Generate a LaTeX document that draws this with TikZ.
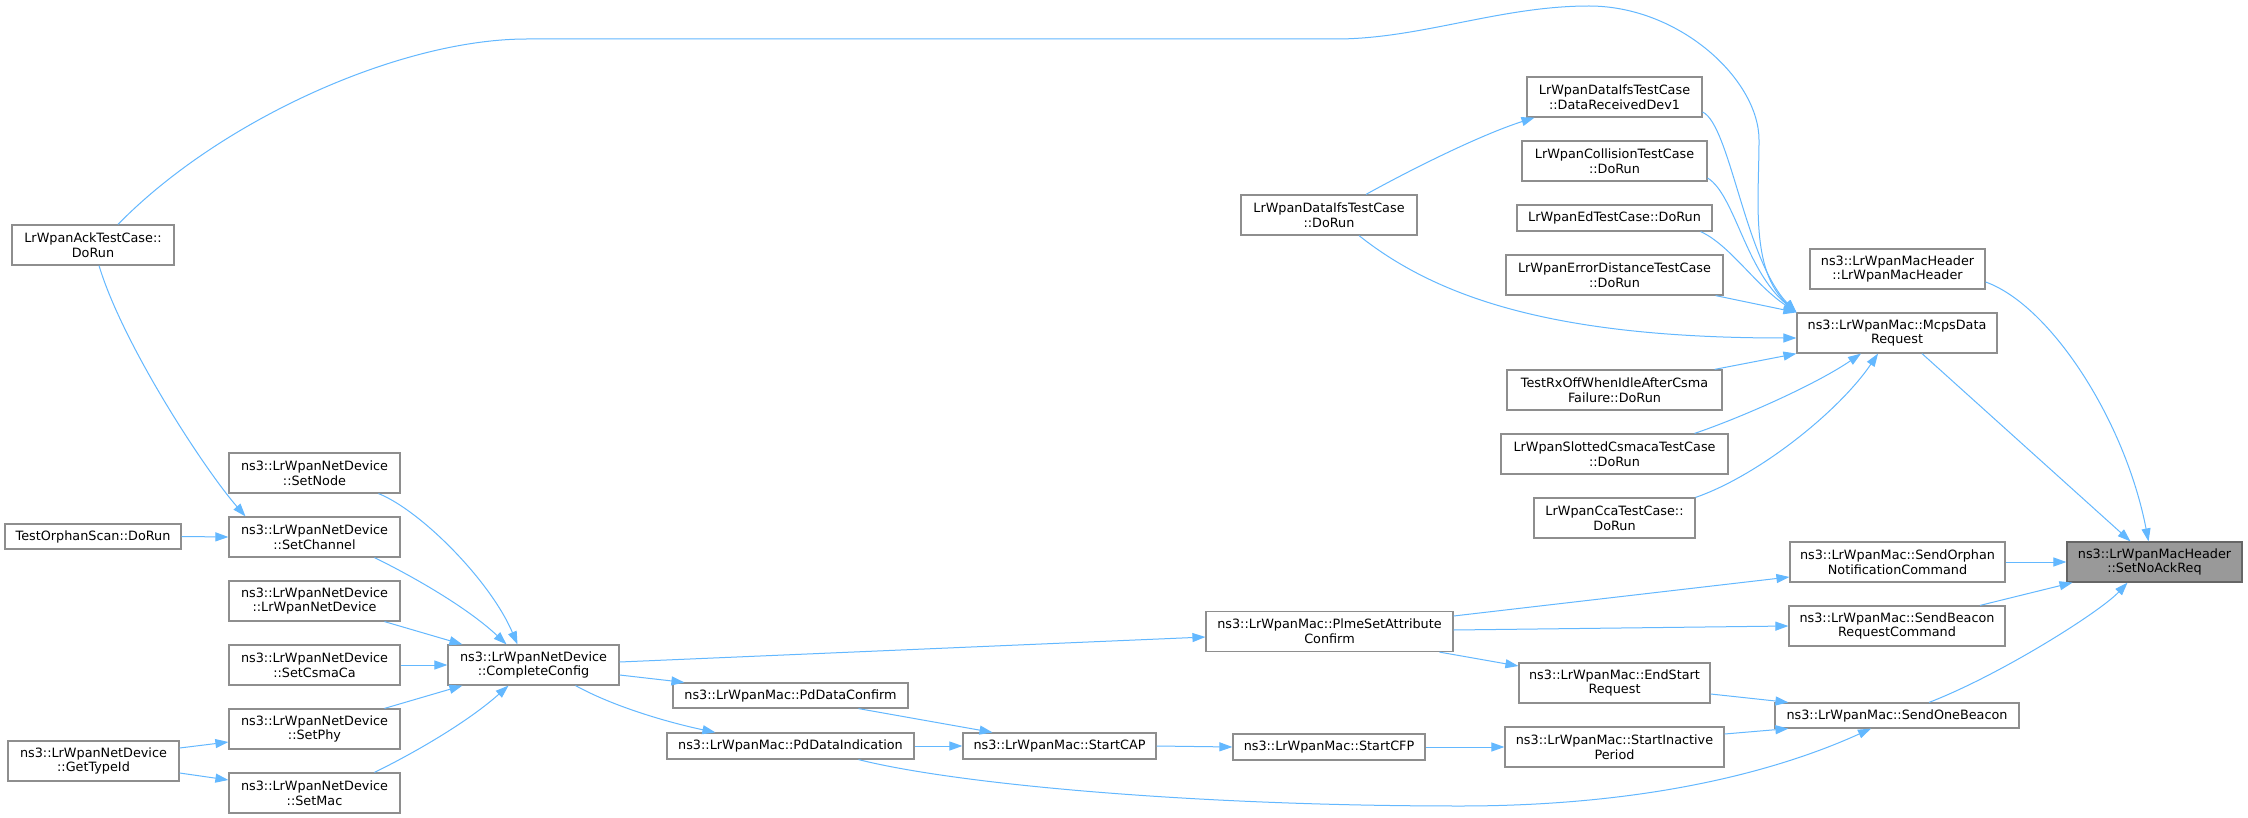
\documentclass[tikz,border=0pt]{standalone}
\usepackage{fontspec}
\setmainfont{DejaVu Sans}
\usetikzlibrary{arrows.meta}
\definecolor{edgeblue}{HTML}{63B8FF}
\definecolor{boxgray}{HTML}{8E8E8E}
\definecolor{hlfill}{HTML}{999999}
\definecolor{darkgray}{HTML}{666666}
\tikzset{
  fn/.style={draw=boxgray, line width=1.2pt, fill=white, rectangle, inner sep=0pt, align=center,
    font=\fontsize{12.8}{14.7}\selectfont},
  hl/.style={fn, fill=hlfill, draw=darkgray},
  edge/.style={draw=edgeblue, line width=1pt, -{Triangle[length=13pt,width=9pt]}}
}
\begin{document}
\begin{tikzpicture}[x=1pt,y=-1pt]
\useasboundingbox[fill=white] (0,0) rectangle (2248,818);
% rank 8
\node[fn, minimum width=162, minimum height=40] (ack) at (93,245) {LrWpanAckTestCase::\\DoRun};
\node[fn, minimum width=176, minimum height=25] (orphan) at (93,536.5) {TestOrphanScan::DoRun};
\node[fn, minimum width=171, minimum height=40] (gettype) at (93.5,761) {ns3::LrWpanNetDevice\\::GetTypeId};
% rank 7
\node[fn, minimum width=171, minimum height=40] (setnode) at (314.5,473) {ns3::LrWpanNetDevice\\::SetNode};
\node[fn, minimum width=171, minimum height=40] (setchannel) at (314.5,537) {ns3::LrWpanNetDevice\\::SetChannel};
\node[fn, minimum width=171, minimum height=40] (netdev) at (314.5,601) {ns3::LrWpanNetDevice\\::LrWpanNetDevice};
\node[fn, minimum width=171, minimum height=40] (setcsma) at (314.5,665) {ns3::LrWpanNetDevice\\::SetCsmaCa};
\node[fn, minimum width=171, minimum height=40] (setphy) at (314.5,729) {ns3::LrWpanNetDevice\\::SetPhy};
\node[fn, minimum width=171, minimum height=40] (setmac) at (314.5,793) {ns3::LrWpanNetDevice\\::SetMac};
% rank 6
\node[fn, minimum width=171, minimum height=40] (complete) at (533.5,665) {ns3::LrWpanNetDevice\\::CompleteConfig};
% rank 5
\node[fn, minimum width=235, minimum height=25] (pdconfirm) at (790.5,695.5) {ns3::LrWpanMac::PdDataConfirm};
\node[fn, minimum width=247, minimum height=26] (pdind) at (790.5,746) {ns3::LrWpanMac::PdDataIndication};
% rank 4
\node[fn, minimum width=193, minimum height=26] (startcap) at (1059.5,746) {ns3::LrWpanMac::StartCAP};
% rank 3
\node[fn, minimum width=176, minimum height=40] (dataifs) at (1329,215) {LrWpanDataIfsTestCase\\::DoRun};
\node[fn, minimum width=247, minimum height=40] (plme) at (1329.5,631.5) {ns3::LrWpanMac::PlmeSetAttribute\\Confirm};
\node[fn, minimum width=192, minimum height=26] (startcfp) at (1329,747) {ns3::LrWpanMac::StartCFP};
% rank 2
\node[fn, minimum width=175, minimum height=40] (datarecv) at (1614.5,97) {LrWpanDataIfsTestCase\\::DataReceivedDev1};
\node[fn, minimum width=185, minimum height=40] (collision) at (1614.5,161) {LrWpanCollisionTestCase\\::DoRun};
\node[fn, minimum width=195, minimum height=26] (ed) at (1614.5,218) {LrWpanEdTestCase::DoRun};
\node[fn, minimum width=217, minimum height=40] (errdist) at (1614.5,275) {LrWpanErrorDistanceTestCase\\::DoRun};
\node[fn, minimum width=215, minimum height=40] (rxoff) at (1614.5,390) {TestRxOffWhenIdleAfterCsma\\Failure::DoRun};
\node[fn, minimum width=227, minimum height=40] (slotted) at (1614.5,454) {LrWpanSlottedCsmacaTestCase\\::DoRun};
\node[fn, minimum width=161, minimum height=40] (cca) at (1614.5,518) {LrWpanCcaTestCase::\\DoRun};
\node[fn, minimum width=191, minimum height=40] (endstart) at (1614.5,683) {ns3::LrWpanMac::EndStart\\Request};
\node[fn, minimum width=219, minimum height=40] (inactive) at (1614.5,747) {ns3::LrWpanMac::StartInactive\\Period};
% rank 1
\node[fn, minimum width=175, minimum height=40] (macheader) at (1897.5,269) {ns3::LrWpanMacHeader\\::LrWpanMacHeader};
\node[fn, minimum width=200, minimum height=40] (mcps) at (1897,333) {ns3::LrWpanMac::McpsData\\Request};
\node[fn, minimum width=215, minimum height=40] (sendorphan) at (1897.5,562) {ns3::LrWpanMac::SendOrphan\\NotificationCommand};
\node[fn, minimum width=216, minimum height=40] (sendbeaconreq) at (1897,626) {ns3::LrWpanMac::SendBeacon\\RequestCommand};
\node[fn, minimum width=244, minimum height=25] (sendone) at (1897,715.5) {ns3::LrWpanMac::SendOneBeacon};
% rank 0
\node[hl, minimum width=175, minimum height=40] (setnoack) at (2154.5,562) {ns3::LrWpanMacHeader\\::SetNoAckReq};

% edges into SetNoAckReq
\draw[edge] ([yshift=-13]macheader.east) .. controls (2050,305) and (2125,420) .. ([xshift=-6]setnoack.north);
\draw[edge] ([xshift=25]mcps.south) -- ([xshift=-24]setnoack.north);
\draw[edge] (sendorphan.east) -- (setnoack.west);
\draw[edge] ([xshift=83]sendbeaconreq.north) -- ([xshift=-82]setnoack.south);
\draw[edge] ([xshift=32]sendone.north) .. controls (2000,675) and (2100,612) .. ([xshift=-27]setnoack.south);
% edges into McpsDataRequest
\draw[edge] ([yshift=-15]datarecv.east) .. controls (1730,125) and (1745,260) .. (mcps.north west);
\draw[edge] ([yshift=-17]collision.east) .. controls (1735,195) and (1745,270) .. (mcps.north west);
\draw[edge] ([xshift=-12]ed.south east) .. controls (1730,245) and (1755,285) .. (mcps.north west);
\draw[edge] ([xshift=-8]errdist.south east) -- (mcps.north west);
\draw[edge] ([xshift=30]dataifs.south) .. controls (1440,300) and (1560,338) .. ([yshift=-5]mcps.west);
\draw[edge] ([xshift=-8]rxoff.north east) -- (mcps.south west);
\draw[edge] ([xshift=-34]slotted.north east) .. controls (1740,418) and (1815,385) .. ([xshift=-36]mcps.south);
\draw[edge] (cca.north east) .. controls (1760,475) and (1840,410) .. ([xshift=-19]mcps.south);
\draw[edge] ([xshift=25]ack.north) .. controls (220,120) and (400,39) .. (527,39) -- (1336,39)
   .. controls (1420,39) and (1500,6) .. (1589,6)
   .. controls (1680,6) and (1759,80) .. (1759,140)
   .. controls (1759,200) and (1750,270) .. (mcps.north west);
% rank 3 -> 2
\draw[edge] ([xshift=37]dataifs.north) .. controls (1410,170) and (1480,135) .. ([xshift=-80]datarecv.south);
\draw[edge] ([yshift=15.5]plme.east) -- ([yshift=-15]sendorphan.west);
\draw[edge] ([yshift=1.5]plme.east) -- (sendbeaconreq.west);
\draw[edge] ([xshift=110]plme.south) -- ([yshift=17]endstart.west);
\draw[edge] ([yshift=-11]endstart.east) -- ([xshift=14]sendone.north west);
\draw[edge] ([yshift=13]inactive.east) -- ([xshift=14]sendone.south west);
\draw[edge] ([xshift=68]pdind.south) .. controls (960,785) and (1200,806) .. (1460,806)
   .. controls (1650,806) and (1780,770) .. ([xshift=-26]sendone.south);
\draw[edge] (startcfp.east) -- (inactive.west);
\draw[edge] (startcap.east) -- (startcfp.west);
\draw[edge] ([xshift=68]pdconfirm.south) -- ([xshift=-67]startcap.north);
\draw[edge] (pdind.east) -- (startcap.west);
% from CompleteConfig
\draw[edge] ([yshift=3]complete.east) -- ([yshift=-5.5]plme.west);
\draw[edge] ([yshift=-10]complete.east) -- ([xshift=12]pdconfirm.north west);
\draw[edge] ([xshift=42]complete.south) .. controls (620,710) and (680,725) .. ([xshift=49]pdind.north west);
% into CompleteConfig
\draw[edge] ([xshift=64]setnode.south) .. controls (420,510) and (490,580) .. ([xshift=-16]complete.north);
\draw[edge] ([xshift=60]setchannel.south) .. controls (420,580) and (470,610) .. ([xshift=-27]complete.north);
\draw[edge] ([xshift=70]netdev.south) -- ([xshift=15]complete.north west);
\draw[edge] (setcsma.east) -- (complete.west);
\draw[edge] ([xshift=70]setphy.north) -- ([xshift=15]complete.south west);
\draw[edge] ([xshift=60]setmac.north) .. controls (420,750) and (470,720) .. ([xshift=-25]complete.south);
% leftmost
\draw[edge] ([xshift=6]ack.south) .. controls (123,345) and (205,470) .. ([xshift=-69]setchannel.north);
\draw[edge] (orphan.east) -- (setchannel.west);
\draw[edge] ([yshift=13]gettype.east) -- ([yshift=-13]setphy.west);
\draw[edge] ([yshift=-12]gettype.east) -- ([yshift=13]setmac.west);
\end{tikzpicture}
\end{document}
